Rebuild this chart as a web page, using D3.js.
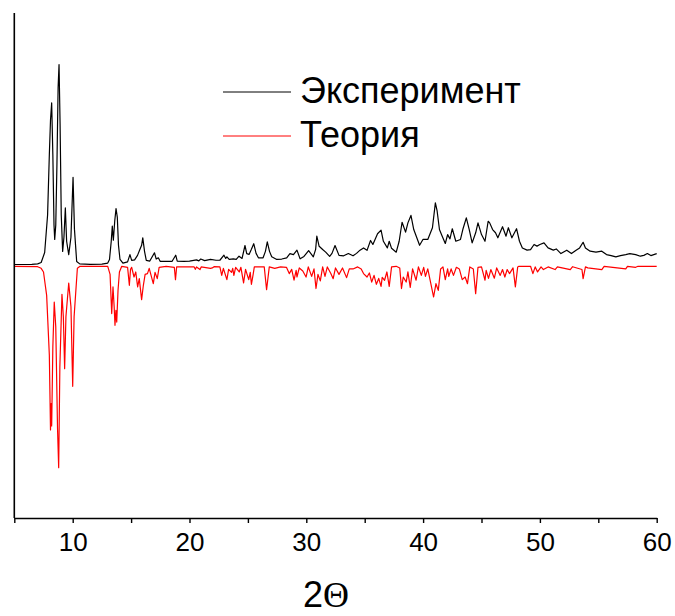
<!DOCTYPE html>
<html>
<head>
<meta charset="utf-8">
<script src="https://cdn.jsdelivr.net/npm/d3@7"></script>
<style>
  html, body { margin: 0; padding: 0; background: #fff; }
  svg { display: block; }
  text { font-family: "Liberation Sans", Arial, sans-serif; fill: #000; }
</style>
</head>
<body>
<svg id="chart" width="675" height="616"></svg>
<script>
// ---- data (2θ, relative intensity) ----
const experiment = [
  [5.0,0.5],[6.5,0.6],[7.0,0.8],[7.3,1.5],[7.6,6.4],[7.85,25],[8.0,55],[8.1,72],[8.2,80.5],[8.3,55],[8.4,20],
  [8.46,12.9],[8.55,20],[8.65,50],[8.75,88],[8.83,99.5],[8.92,70],[9.02,25],[9.14,7],[9.25,14],[9.37,28.5],
  [9.48,12],[9.66,5.4],[9.85,14],[10.03,43.7],[10.15,18],[10.34,2],[10.6,0.8],[11.5,0.6],[12.5,0.7],[13.0,1.2],
  [13.15,3],[13.3,12],[13.39,19.5],[13.48,12.5],[13.6,22],[13.71,28.2],[13.82,23.8],[13.92,10],[14.05,3],[14.3,1.2],
  [14.7,1.8],[14.9,5.4],[15.05,2.5],[15.3,2.8],[15.55,5],[15.75,7.9],[15.9,10],[16.0,13.7],[16.15,7],[16.3,2.5],
  [16.6,2.2],[17.0,6.3],[17.15,3.2],[17.33,3.8],[17.5,2],[17.8,2],[18.5,2],[18.82,5.1],[18.95,2.2],[19.5,2],
  [20.0,2.2],[20.6,2.8],[20.8,2.3],[20.96,3.2],[21.3,2.4],[21.8,3],[22.27,2.6],[22.6,2.6],[22.95,5.1],[23.1,3.5],
  [23.2,4.3],[23.4,3],[23.75,3.3],[24.0,3],[24.24,4.6],[24.5,3.5],[24.75,9.9],[24.9,5.9],[25.1,5.5],[25.3,8],
  [25.5,10.8],[25.7,6],[25.9,3.8],[26.3,3.8],[26.5,7],[26.66,11.7],[26.85,7],[27.04,4.3],[27.47,3],[27.9,3.2],
  [28.32,3.8],[28.6,5.9],[28.9,5.4],[29.2,7.6],[29.47,3.3],[29.8,4.5],[30.2,7.4],[30.6,4.3],[30.8,8],[30.9,14.5],
  [31.1,9.5],[31.4,7.9],[31.66,6.6],[32.0,4.5],[32.2,6],[32.46,9.9],[32.8,5],[33.2,4.8],[33.6,5.9],[34.0,4.8],
  [34.3,6],[34.6,7.6],[34.9,8.7],[35.2,7.5],[35.5,12.4],[35.7,10.4],[36.1,15.7],[36.4,17.5],[36.6,12],[36.94,8.7],
  [37.1,12],[37.3,8.5],[37.7,6.6],[37.95,12],[38.2,21.4],[38.5,16.5],[38.7,21.1],[38.96,24.8],[39.2,17.8],[39.7,10],
  [40.0,13],[40.4,12.9],[40.8,18.7],[41.05,31],[41.2,27],[41.4,17.8],[41.6,15],[41.9,10.9],[42.1,15.3],[42.3,13.2],
  [42.5,18.2],[42.8,12],[43.2,12.9],[43.4,17.8],[43.7,23.6],[43.95,17.8],[44.2,11.2],[44.5,16.2],[44.7,21.1],[45.0,15.3],
  [45.3,12],[45.57,21.9],[45.7,21.1],[45.95,17.8],[46.2,16.2],[46.4,13.7],[46.8,19.2],[47.1,14.5],[47.3,18.7],[47.6,13.7],
  [48.0,18.2],[48.25,12],[48.5,8.7],[48.9,7.6],[49.2,7.9],[49.5,10.4],[49.75,9.6],[50.0,10.4],[50.35,11.2],[50.7,8.7],
  [51.15,7.6],[51.4,8.2],[51.8,5.9],[52.3,7.6],[52.7,5.9],[53.1,7.6],[53.4,8.7],[53.7,11.5],[53.9,8.7],[54.3,7.1],
  [54.8,6.6],[55.3,7.1],[55.7,5.4],[56.1,4.9],[56.5,4.3],[56.9,4.9],[57.35,5.4],[57.7,5.9],[58.2,5.4],[58.6,4.6],
  [58.9,5],[59.2,5.9],[59.5,4.9],[60.0,5.9]
];

const theory = [
  [5.0,0],[7.0,0.2],[7.3,1],[7.5,2.8],[7.77,14.4],[8.0,44],[8.1,81],[8.15,68],[8.2,79],[8.3,40],[8.42,17.7],
  [8.55,30],[8.7,80],[8.8,99.7],[8.9,50],[9.08,13.9],[9.2,25],[9.31,50.7],[9.42,25],[9.66,8.3],[9.85,20],[10.0,59.4],
  [10.12,25],[10.4,1],[10.63,0],[13.0,0],[13.2,4],[13.34,23.4],[13.45,10.2],[13.55,20],[13.62,29.2],[13.7,21.8],
  [13.77,27.6],[13.88,12],[14.0,2.8],[14.2,0],[14.7,0.5],[14.85,9.4],[14.95,1.5],[15.05,0.5],[15.25,5.3],[15.4,2.8],
  [15.56,10.2],[15.7,6.1],[15.9,16.5],[16.05,9.4],[16.2,4],[16.4,3.6],[16.55,1],[16.9,8.6],[17.05,3],[17.24,6.1],
  [17.4,0.5],[18.0,0],[18.7,0.5],[18.8,6.6],[18.9,0.3],[20.4,0.3],[20.5,1.5],[20.6,0.3],[20.9,1.6],[21.0,0.3],
  [21.8,1],[21.95,0.8],[22.1,0.2],[22.6,0.3],[22.76,4.5],[22.9,1],[23.2,6.6],[23.35,1.5],[23.6,3],[23.7,1],[23.8,4.5],
  [23.95,0.5],[24.26,2.8],[24.4,0.5],[24.63,8.2],[24.8,1.5],[25.07,6.6],[25.2,3],[25.3,8.9],[25.45,4],[25.55,0.3],
  [26.4,0.3],[26.6,11.6],[26.83,0.3],[27.3,1],[27.8,0.3],[28.3,0.5],[28.54,3.6],[28.75,1.5],[28.95,6.9],[29.13,2],
  [29.2,5.3],[29.4,0.8],[29.7,2.3],[29.98,5.3],[30.17,0.3],[30.46,5],[30.66,1.3],[30.83,11],[31.0,4],[31.2,7.2],
  [31.4,0.3],[31.6,5],[31.8,0.3],[32.1,3.6],[32.3,6.1],[32.5,0.8],[32.8,4],[33.1,0.8],[33.45,5.6],[33.68,1.3],
  [34.0,1.3],[34.4,0.3],[34.7,1.3],[34.9,3.6],[35.2,5.3],[35.4,3.3],[35.6,7.8],[35.8,4.5],[36.0,8.9],[36.2,6],
  [36.4,9.9],[36.5,5.5],[36.7,6.9],[36.9,2.8],[37.1,9.9],[37.3,0.3],[37.7,0],[38.0,0.8],[38.15,11],[38.3,5.3],
  [38.55,7.8],[38.7,2.8],[38.9,10.5],[39.1,1.3],[39.4,6.9],[39.6,0.3],[39.85,4.5],[40.05,0.5],[40.2,5],[40.4,1.3],
  [40.6,6.9],[40.9,15.2],[41.1,8.6],[41.3,11.9],[41.5,1.3],[41.7,0.3],[41.9,6.6],[42.1,1.3],[42.2,5],[42.4,1.3],
  [42.6,4.5],[42.85,0.5],[43.1,1.3],[43.35,6.6],[43.6,5.3],[43.8,8.6],[44.0,0.3],[44.3,1.3],[44.5,13.5],[44.7,0.5],
  [45.0,0.3],[45.3,6.9],[45.4,2],[45.6,6],[45.8,1.6],[46.1,5.9],[46.3,0.8],[46.6,4.5],[46.8,1.6],[47.0,5.3],
  [47.2,1.6],[47.4,3.6],[47.7,0.8],[47.9,10.2],[48.1,0.3],[48.2,0],[49.2,0],[49.4,3.6],[49.6,0.3],[49.8,2.8],
  [50.1,0.3],[50.3,1.6],[50.7,0.3],[51.3,1.6],[51.5,0.3],[52.6,1.6],[52.8,0.2],[53.6,1.6],[53.7,6.1],[53.9,0.3],
  [54.1,0.8],[55.3,1.6],[55.5,0],[57.35,1.3],[57.5,0],[58.2,0.5],[58.4,0],[60.0,0]
];

const xMajorTicks = [10, 20, 30, 40, 50, 60];
const xMinorTicks = [5, 15, 25, 35, 45, 55];
const legendLabels = ["Эксперимент", "Теория"];
const seriesColors = ["#000000", "#ff0000"];
const xTitleDigit = "2";
const xTitleSymbol = "Θ";

// ---- drawing ----
const svg = d3.select("#chart");
const x = d3.scaleLinear().domain([5, 60]).range([14.3, 656.7]);
const y = d3.scaleLinear().domain([-125, 125]).range([518, 13]);

const line = d3.line().x(d => x(d[0])).y(d => y(d[1]));

// theory drawn inverted below the baseline
svg.append("path")
  .datum(theory.map(d => [d[0], -d[1] - 0.4]))
  .attr("d", line)
  .attr("fill", "none")
  .attr("stroke", seriesColors[1])
  .attr("stroke-width", 1.2)
  .attr("stroke-linejoin", "round");

svg.append("path")
  .datum(experiment)
  .attr("d", line)
  .attr("fill", "none")
  .attr("stroke", seriesColors[0])
  .attr("stroke-width", 1.2)
  .attr("stroke-linejoin", "round");

// y axis line (no ticks)
svg.append("line")
  .attr("x1", 14.3).attr("x2", 14.3)
  .attr("y1", 13).attr("y2", 518)
  .attr("stroke", "#000").attr("stroke-width", 1.6);

// x axis
const xAxis = d3.axisBottom(x).tickValues(xMajorTicks).tickSize(5).tickSizeOuter(0).tickPadding(10)
  .tickFormat(d3.format("d"));
const gx = svg.append("g").attr("transform", "translate(0,518)").call(xAxis);
gx.select(".domain").attr("stroke", "#000").attr("stroke-width", 1.6);
gx.selectAll(".tick line").attr("stroke", "#000").attr("stroke-width", 1.4);
gx.selectAll(".tick text")
  .attr("font-family", "Liberation Sans, Arial, sans-serif")
  .attr("font-size", 26)
  .attr("fill", "#000");

const xMinor = d3.axisBottom(x).tickValues(xMinorTicks).tickSize(5).tickSizeOuter(0).tickFormat("");
const gm = svg.append("g").attr("transform", "translate(0,518)").call(xMinor);
gm.select(".domain").remove();
gm.selectAll(".tick line").attr("stroke", "#000").attr("stroke-width", 1.4);

// x title
const title = svg.append("text")
  .attr("x", 326).attr("y", 607)
  .attr("text-anchor", "middle")
  .attr("font-size", 36);
title.append("tspan").text(xTitleDigit).attr("font-family", "Liberation Sans, Arial, sans-serif");
title.append("tspan").text(xTitleSymbol).attr("font-family", "Liberation Serif, Times New Roman, serif");

// legend
legendLabels.forEach((lab, i) => {
  const yy = 92 + i * 44;
  svg.append("line")
    .attr("x1", 223).attr("x2", 291)
    .attr("y1", yy).attr("y2", yy)
    .attr("stroke", seriesColors[i]).attr("stroke-width", 1);
  svg.append("text")
    .attr("x", 300).attr("y", yy + 11)
    .attr("font-size", 36)
    .text(lab);
});
</script>
</body>
</html>
